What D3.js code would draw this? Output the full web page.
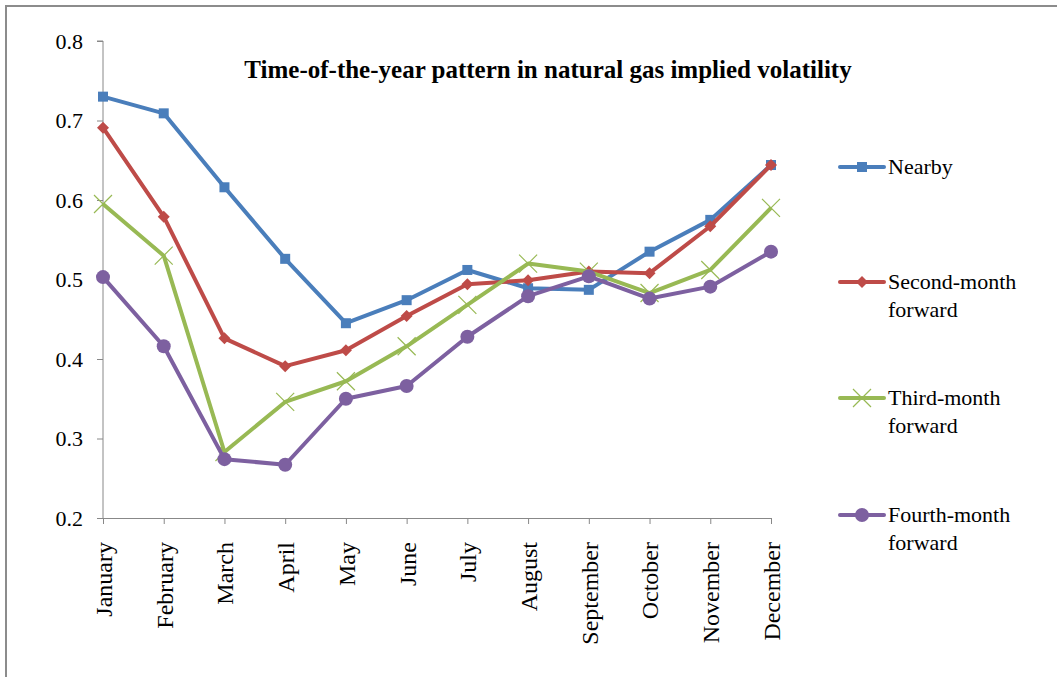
<!DOCTYPE html>
<html>
<head>
<meta charset="utf-8">
<script src="https://cdn.jsdelivr.net/npm/d3@7"></script>
<style>
	body { margin: 0; background: #fff; }
	svg { display: block; }
	svg text { font-family: "Liberation Serif", "Times New Roman", serif; }
</style>
</head>
<body>
<div id="chart"></div>
<script>
// data
const months = ["January", "February", "March", "April", "May", "June",
	"July", "August", "September", "October", "November", "December"];
const nearby = [0.730, 0.709, 0.616, 0.526, 0.445, 0.474, 0.512, 0.489, 0.487, 0.535, 0.575, 0.644];
const secondMonth = [0.691, 0.579, 0.426, 0.391, 0.411, 0.454, 0.494, 0.499, 0.510, 0.508, 0.567, 0.644];
const thirdMonth = [0.595, 0.530, 0.283, 0.346, 0.372, 0.416, 0.468, 0.520, 0.510, 0.483, 0.512, 0.590];
const fourthMonth = [0.503, 0.416, 0.274, 0.267, 0.350, 0.366, 0.428, 0.479, 0.504, 0.476, 0.491, 0.535];
const yTicks = [0.2, 0.3, 0.4, 0.5, 0.6, 0.7, 0.8];
const seriesNames = [["Nearby"], ["Second-month", "forward"], ["Third-month", "forward"], ["Fourth-month", "forward"]];

const series = [
	{ name: seriesNames[0], values: nearby, color: "#4a7ebb", marker: "square" },
	{ name: seriesNames[1], values: secondMonth, color: "#be4b48", marker: "diamond" },
	{ name: seriesNames[2], values: thirdMonth, color: "#98b954", marker: "x" },
	{ name: seriesNames[3], values: fourthMonth, color: "#7d60a0", marker: "circle" }
];

// sizes
const width = 1057, height = 677;
const margin = { top: 41, left: 103, right: 286, bottom: 159 };

const svg = d3.select("#chart").append("svg")
	.attr("width", width)
	.attr("height", height);

// frame (only top and left edges show)
svg.append("line").attr("x1", 5).attr("x2", width).attr("y1", 6).attr("y2", 6)
	.attr("stroke", "#8c8c8c").attr("stroke-width", 2);
svg.append("line").attr("x1", 6).attr("x2", 6).attr("y1", 5).attr("y2", height)
	.attr("stroke", "#8c8c8c").attr("stroke-width", 2);

// scales
const x = d3.scalePoint().domain(months).range([margin.left, width - margin.right]);
const y = d3.scaleLinear().domain([0.2, 0.8]).range([height - margin.bottom, margin.top]);

// axes
const yAxis = svg.append("g")
	.attr("transform", `translate(${margin.left},0)`)
	.call(d3.axisLeft(y).tickValues(yTicks).tickFormat(d3.format(".1f")).tickSize(6).tickPadding(14));
yAxis.select(".domain").attr("stroke", "#888").attr("d", `M-6,${y(0.8)}H0V${y(0.2)}`);
yAxis.selectAll(".tick line").attr("stroke", "#888");
yAxis.selectAll(".tick text").attr("font-size", 22).attr("fill", "#000");

const xAxis = svg.append("g")
	.attr("transform", `translate(0,${height - margin.bottom})`)
	.call(d3.axisBottom(x).tickSize(6).tickSizeOuter(0));
xAxis.select(".domain").attr("stroke", "#888");
xAxis.selectAll(".tick line").attr("stroke", "#888");
xAxis.selectAll(".tick text")
	.attr("font-size", 24).attr("fill", "#000")
	.attr("text-anchor", "end")
	.attr("transform", "rotate(-90)")
	.attr("x", -24).attr("y", 0).attr("dy", "0.35em");

// title
svg.append("text")
	.attr("x", 548).attr("y", 78)
	.attr("text-anchor", "middle")
	.attr("font-size", 25).attr("font-weight", "bold")
	.text("Time-of-the-year pattern in natural gas implied volatility");

// markers
const drawMarker = (g, type, color, cx, cy) => {
	if (type === "square") {
		g.append("rect").attr("x", cx - 5).attr("y", cy - 5).attr("width", 10).attr("height", 10).attr("fill", color);
	} else if (type === "diamond") {
		g.append("path").attr("d", `M${cx},${cy - 6}L${cx + 6},${cy}L${cx},${cy + 6}L${cx - 6},${cy}Z`).attr("fill", color);
	} else if (type === "x") {
		g.append("path").attr("d", `M${cx - 9},${cy - 9}L${cx + 9},${cy + 9}M${cx - 9},${cy + 9}L${cx + 9},${cy - 9}`)
			.attr("stroke", color).attr("stroke-width", 1.2).attr("fill", "none");
	} else {
		g.append("circle").attr("cx", cx).attr("cy", cy).attr("r", 7).attr("fill", color);
	}
};

const line = d3.line().x((d, i) => x(months[i])).y((d) => y(d));

series.forEach((s) => {
	const g = svg.append("g");
	g.append("path")
		.datum(s.values)
		.attr("d", line)
		.attr("fill", "none")
		.attr("stroke", s.color)
		.attr("stroke-width", 4)
		.attr("stroke-linejoin", "round");
	s.values.forEach((v, i) => drawMarker(g, s.marker, s.color, x(months[i]), y(v)));
});

// legend
const legendY = [167, 282, 398, 515];
series.forEach((s, i) => {
	const g = svg.append("g");
	const ly = legendY[i];
	g.append("line").attr("x1", 840).attr("x2", 884).attr("y1", ly).attr("y2", ly)
		.attr("stroke", s.color).attr("stroke-width", 4).attr("stroke-linecap", "round");
	drawMarker(g, s.marker, s.color, 862, ly);
	const t = g.append("text").attr("x", 888).attr("y", ly + 7).attr("font-size", 22);
	s.name.forEach((n, j) => t.append("tspan").attr("x", 888).attr("dy", j === 0 ? 0 : 28).text(n));
});
</script>
</body>
</html>
